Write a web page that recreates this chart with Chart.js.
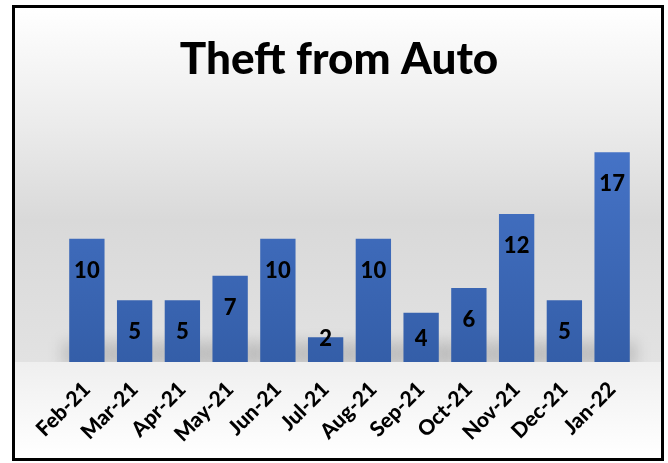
<!DOCTYPE html>
<html>
<head>
<meta charset="utf-8">
<script src="https://cdn.jsdelivr.net/npm/chart.js@4.4.0/dist/chart.umd.min.js"></script>
<style>
  body { margin: 0; background: #fff; }
  #box { position: absolute; left: 12px; top: 5px; width: 646px; height: 450px; border: 3px solid #000; }
  canvas { display: block; }
</style>
</head>
<body>
<div id="box"><canvas id="bar-chart" width="646" height="450"></canvas></div>
<script>
// monthly counts
var months = ['Feb-21', 'Mar-21', 'Apr-21', 'May-21', 'Jun-21', 'Jul-21', 'Aug-21', 'Sep-21', 'Oct-21', 'Nov-21', 'Dec-21', 'Jan-22'];
var thefts = [10, 5, 5, 7, 10, 2, 10, 4, 6, 12, 5, 17];
var yMax = 18;
var chartTitle = 'Theft from Auto';

// grey background band + soft shadows under the bars
var backdrop = {
    id: 'backdrop',
    beforeDraw: function (chart) {
        var ctx = chart.ctx, a = chart.chartArea;
        var h = chart.height, w = chart.width;
        ctx.save();
        var g = ctx.createLinearGradient(0, 0, 0, a.bottom);
        g.addColorStop(0, '#ffffff');
        g.addColorStop(0.35, '#eaeaea');
        g.addColorStop(0.6, '#d9d9d9');
        g.addColorStop(1, '#e2e2e2');
        ctx.fillStyle = g;
        ctx.fillRect(0, 0, w, a.bottom);
        var g2 = ctx.createLinearGradient(0, a.bottom, 0, h);
        g2.addColorStop(0, '#efefef');
        g2.addColorStop(1, '#ffffff');
        ctx.fillStyle = g2;
        ctx.fillRect(0, a.bottom, w, h - a.bottom);

        // title centred on the whole canvas
        ctx.font = '900 44px Lato';
        ctx.fillStyle = '#000';
        ctx.textAlign = 'center';
        ctx.textBaseline = 'middle';
        ctx.fillText(chartTitle, w / 2 + 1, 52);
        ctx.restore();
    },
    beforeDatasetsDraw: function (chart) {
        var ctx = chart.ctx, a = chart.chartArea;
        var meta = chart.getDatasetMeta(0);
        ctx.save();
        ctx.beginPath();
        ctx.rect(0, 0, chart.width, a.bottom);
        ctx.clip();
        ctx.filter = 'blur(7px)';
        ctx.fillStyle = 'rgba(0,0,0,0.14)';
        meta.data.forEach(function (bar) {
            ctx.fillRect(bar.x - bar.width / 2 - 7, a.bottom - 20, bar.width + 14, 24);
        });
        ctx.restore();
    }
};

// value labels inside the bars
var valueLabels = {
    id: 'valueLabels',
    afterDatasetsDraw: function (chart) {
        var ctx = chart.ctx;
        var meta = chart.getDatasetMeta(0);
        ctx.save();
        ctx.font = '900 22px Lato';
        ctx.fillStyle = '#000';
        ctx.textAlign = 'center';
        ctx.textBaseline = 'middle';
        meta.data.forEach(function (bar, i) {
            var y = Math.min(bar.y + 32, bar.base - 23);
            ctx.fillText(thefts[i], bar.x, y);
        });
        ctx.restore();
    }
};

var barFill = function (context) {
    var a = context.chart.chartArea;
    if (!a) return '#4472c4';
    var g = context.chart.ctx.createLinearGradient(0, a.top, 0, a.bottom);
    g.addColorStop(0, '#4674c8');
    g.addColorStop(1, '#345ea8');
    return g;
};

new Chart(document.getElementById('bar-chart').getContext('2d'), {
    type: 'bar',
    data: {
        labels: months,
        datasets: [{
            data: thefts,
            backgroundColor: barFill,
            barPercentage: 0.74,
            categoryPercentage: 1
        }]
    },
    options: {
        responsive: false,
        animation: false,
        layout: { padding: { left: 48, right: 25, top: 132, bottom: 0 } },
        plugins: {
            legend: { display: false },
            tooltip: { enabled: false },
            title: { display: false }
        },
        scales: {
            x: {
                grid: { display: false },
                border: { display: false },
                ticks: {
                    color: '#000',
                    font: { family: 'Lato', size: 21, weight: '900' },
                    minRotation: 45,
                    maxRotation: 45,
                    padding: 7
                },
                afterFit: function (scale) { scale.height = 96; }
            },
            y: {
                display: false,
                min: 0,
                max: yMax
            }
        }
    },
    plugins: [backdrop, valueLabels]
});
</script>
</body>
</html>
